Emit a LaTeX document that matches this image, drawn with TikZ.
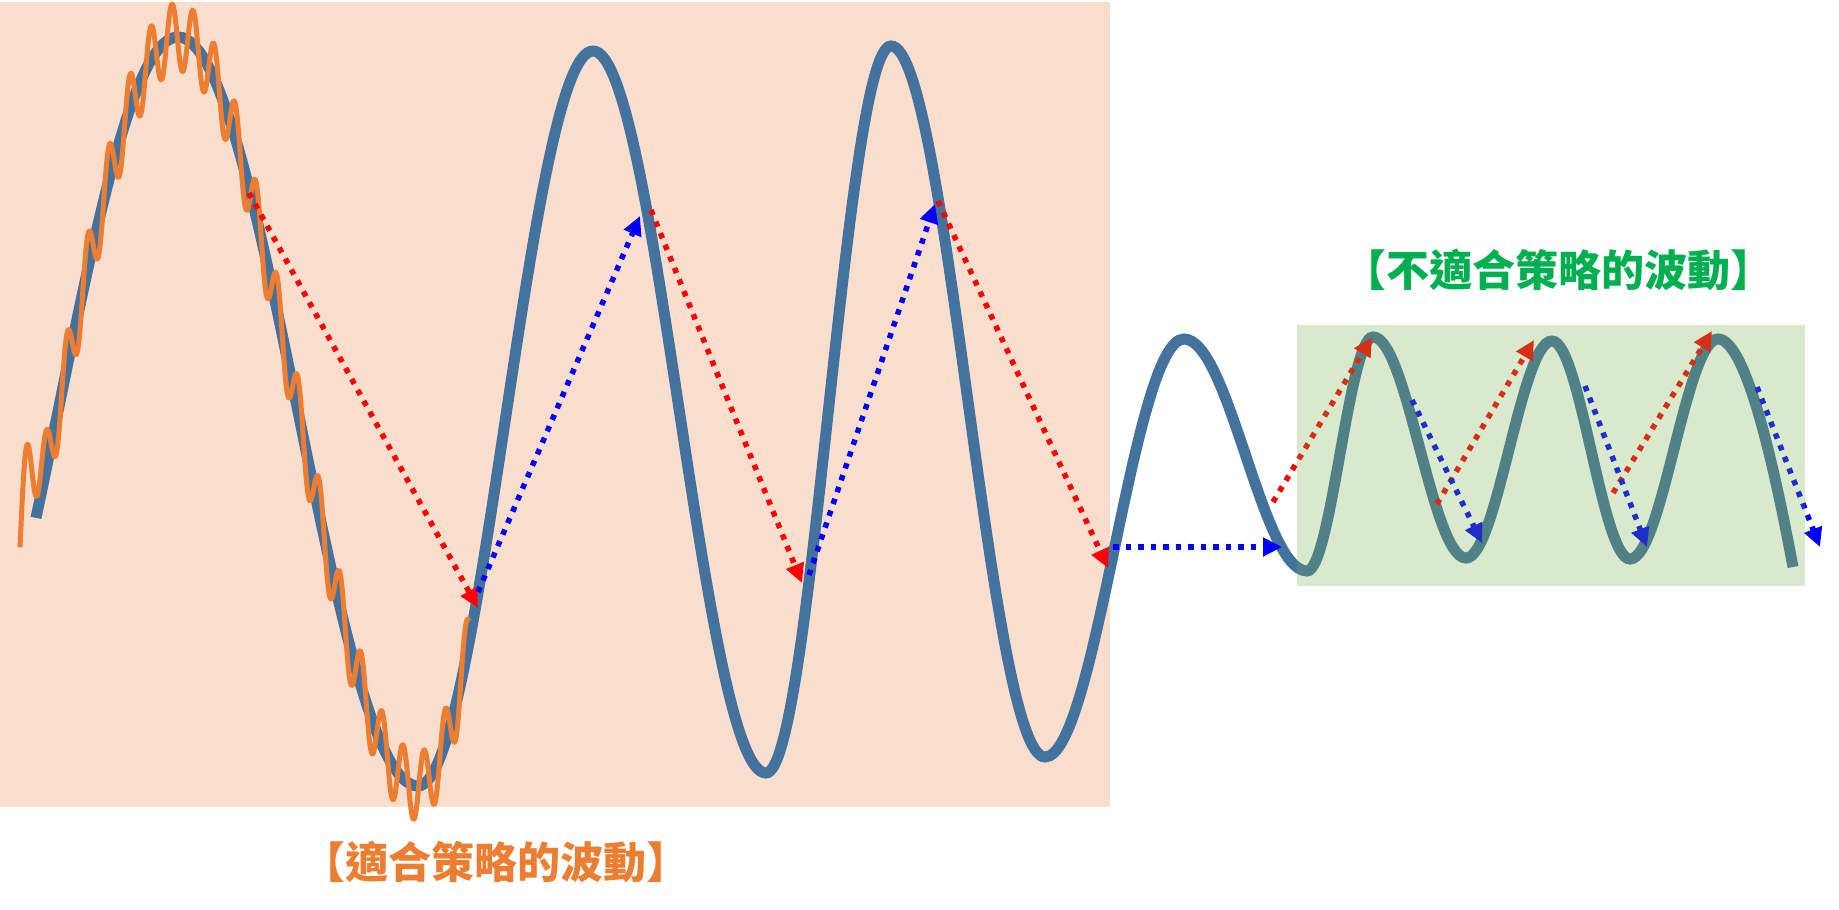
\documentclass[tikz,border=0pt]{standalone}
\usepackage{fontspec}
\usepackage{tikz}
\usetikzlibrary{arrows.meta}
\newfontfamily\cjk{Noto Sans CJK TC}
\definecolor{wavecol}{RGB}{67,114,158}
\definecolor{noisy}{RGB}{237,125,49}
\definecolor{peach}{RGB}{250,222,205}
\definecolor{leaf}{RGB}{112,173,71}
\definecolor{fitgreen}{RGB}{0,176,80}

\begin{document}
\begin{tikzpicture}[x=1pt,y=-1pt,
    wave/.style={line width=11pt,draw=wavecol},
    hop/.style={line width=5.5pt,dash pattern=on 5.5pt off 7pt,-{Triangle[length=19pt,width=18pt]}},
    lbl/.style={font=\cjk\bfseries\fontsize{43}{50}\selectfont,inner sep=0pt}]
    \useasboundingbox (0,0) rectangle (1839,910);
    \fill[peach] (0,2) rectangle (1110,807);

    % the price wave: peaks and troughs joined by half cosines
    \draw[wave] plot[domain=36:178,samples=40] (\x,{411.5-374.5*cos(0.75*(\x-178))})
      .. controls +(87,0) and +(-87,0) .. (418,786)
      .. controls +(64,0) and +(-64,0) .. (593,51)
      .. controls +(63,0) and +(-63,0) .. (766,773)
      .. controls +(46,0) and +(-46,0) .. (891,46)
      .. controls +(56,0) and +(-56,0) .. (1045,757)
      .. controls +(51,0) and +(-51,0) .. (1184,339)
      .. controls +(45,0) and +(-45,0) .. (1307,571)
      .. controls +(24,0) and +(-24,0) .. (1373,337)
      .. controls +(34,0) and +(-34,0) .. (1466,558)
      .. controls +(31,0) and +(-31,0) .. (1552,341)
      .. controls +(28,0) and +(-28,0) .. (1630,559)
      .. controls +(32,0) and +(-32,0) .. (1718,339)
      .. controls +(30,0) and +(-15,-80) .. (1793,567);

    % noisy copy of the first swing
    \draw[noisy,line width=5pt,line join=round] plot[domain=20:469,samples=900]
      (\x,{(\x<418 ? 411.5-374.5*cos(0.75*(\x-178)) : 418.5+367.5*cos(1.0286*(\x-418)))
        -34*cos(17.14*(\x-172))-90*exp(-min(((\x-29)/10)^2,20))});

    \foreach \xa/\ya/\xb/\yb in {249/193/478/608, 651/210/802/583, 938/201/1108/568,
        1273/502/1372/337, 1437/504/1534/340, 1613/493/1712/331}
      \draw[hop,red] (\xa,\ya) -- (\xb,\yb);
    \foreach \xa/\ya/\xb/\yb in {478/592/640/216, 809/575/935/204, 1113/547/1282/547,
        1412/400/1482/543, 1585/386/1647/547, 1757/387/1820/547}
      \draw[hop,blue] (\xa,\ya) -- (\xb,\yb);

    \fill[leaf,opacity=.27] (1297,325) rectangle (1805,586);

    \node[lbl,text=noisy] (fitlbl) at (496,862) {【適合策略的波動】};
    \node[lbl,text=fitgreen] (unfitlbl) at (1558,270) {【不適合策略的波動】};
\end{tikzpicture}
\end{document}
